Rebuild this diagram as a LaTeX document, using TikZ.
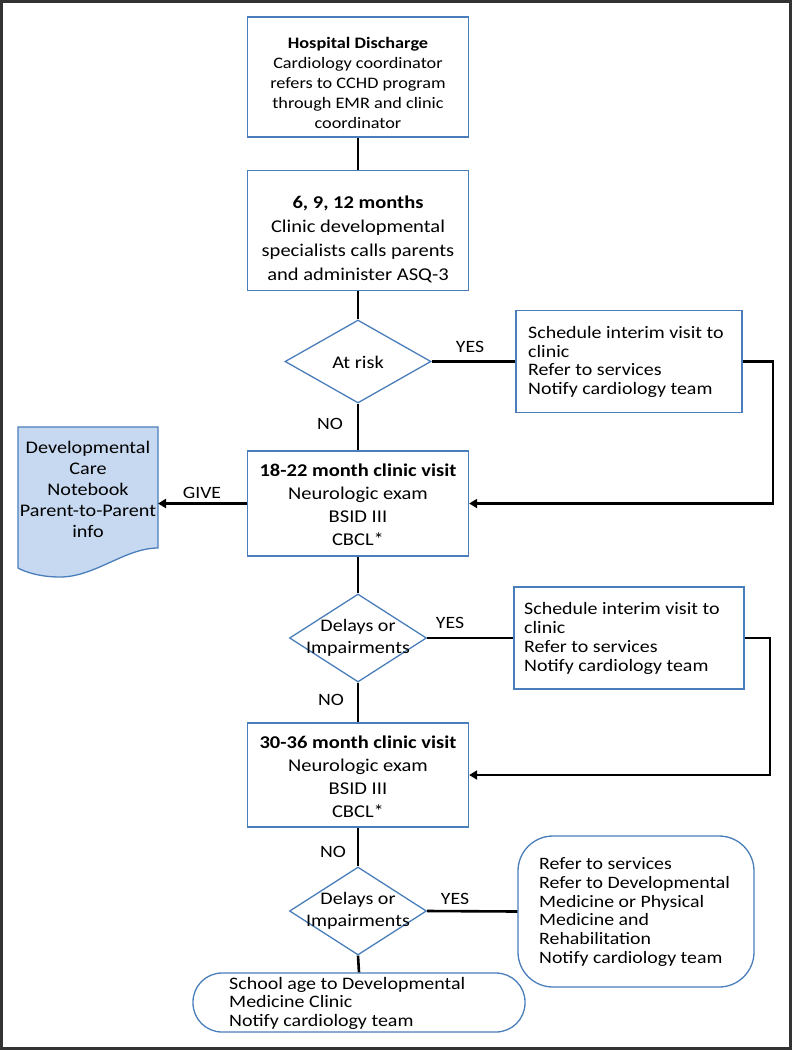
\documentclass[tikz,border=0pt]{standalone}
\usepackage{fontspec}
\setmainfont{Carlito}[FakeStretch=1.14]
\usetikzlibrary{arrows.meta,shapes.geometric}
\definecolor{boxblue}{HTML}{4A7EBB}
\definecolor{docfill}{HTML}{C6D9F1}
\begin{document}
\begin{tikzpicture}[x=1pt,y=-1pt,
  box/.style={draw=boxblue,line width=1.3pt,rectangle,inner sep=0pt},
  dia/.style={draw=boxblue,line width=1.3pt,diamond,inner sep=0pt},
  txt/.style={inner sep=0pt,align=center},
  ltxt/.style={inner sep=0pt,align=left,anchor=west},
  lab/.style={inner sep=0pt,font=\fontsize{17.3}{19}\selectfont},
  conn/.style={line width=2.6pt,black},
  arr/.style={line width=2.6pt,black,-{Triangle[length=8pt,width=9pt]}}]
\useasboundingbox (0,0) rectangle (792,1050);
\draw[line width=2.5pt,black!80] (1.5,1.5) rectangle (790.5,1048.5);
% main boxes
\node[box,minimum width=221,minimum height=120] (b1) at (358,77) {};
\node[txt,font=\fontsize{16}{20}\selectfont] (b1t) at (358,83) {\textbf{Hospital Discharge}\\Cardiology coordinator\\refers to CCHD program\\through EMR and clinic\\coordinator};
\node[box,minimum width=221,minimum height=120] (b2) at (358,230.5) {};
\node[txt,font=\fontsize{18}{24}\selectfont] (b2t) at (358,239) {\textbf{6, 9, 12 months}\\Clinic developmental\\specialists calls parents\\and administer ASQ-3};
\node[dia,minimum width=146,minimum height=83] (d1) at (358,361.5) {};
\node[txt,font=\fontsize{17.8}{20}\selectfont] (d1t) at (358,362) {At risk};
\node[box,minimum width=226,minimum height=102] (r1) at (629,361.5) {};
\node[ltxt,font=\fontsize{17.5}{18.8}\selectfont] (r1t) at (528,362) {Schedule interim visit to\\clinic\\Refer to services\\Notify cardiology team};
\node[box,minimum width=221,minimum height=105] (b3) at (358,503.5) {};
\node[txt,font=\fontsize{18}{23}\selectfont] (b3t) at (358,504.5) {\textbf{18-22 month clinic visit}\\Neurologic exam\\BSID III\\CBCL*};
% document shape
\fill[docfill] (18,427) -- (158,427) -- (158,548) .. controls (125,548) and (95,577) .. (60,577) .. controls (40,577) and (25,572) .. (18,568) -- cycle;
\draw[boxblue,line width=1.3pt] (18,427) -- (158,427) -- (158,548) .. controls (125,548) and (95,577) .. (60,577) .. controls (40,577) and (25,572) .. (18,568) -- cycle;
\coordinate (docr) at (158,503.5);
\node[txt,font=\fontsize{17.7}{21}\selectfont] (doct) at (88,489) {Developmental\\Care\\Notebook\\Parent-to-Parent\\info};
\node[dia,minimum width=137,minimum height=88] (d2) at (358,638) {};
\node[txt,font=\fontsize{17.6}{22.5}\selectfont] (d2t) at (358,638) {Delays or\\Impairments};
\node[box,minimum width=230,minimum height=102] (r2) at (629,638) {};
\node[ltxt,font=\fontsize{17.5}{18.8}\selectfont] (r2t) at (524,638.5) {Schedule interim visit to\\clinic\\Refer to services\\Notify cardiology team};
\node[box,minimum width=221,minimum height=104] (b4) at (358,775) {};
\node[txt,font=\fontsize{18}{23}\selectfont] (b4t) at (358,777) {\textbf{30-36 month clinic visit}\\Neurologic exam\\BSID III\\CBCL*};
\node[dia,minimum width=137,minimum height=88] (d3) at (358,911) {};
\node[txt,font=\fontsize{17.6}{22.5}\selectfont] (d3t) at (358,911) {Delays or\\Impairments};
\node[box,rounded corners=35pt,minimum width=236,minimum height=151] (r3) at (636,911.5) {};
\node[ltxt,font=\fontsize{17.4}{18.8}\selectfont] (r3t) at (539,912) {Refer to services\\Refer to Developmental\\Medicine or Physical\\Medicine and\\Rehabilitation\\Notify cardiology team};
\node[box,rounded corners=29pt,minimum width=332,minimum height=59] (b5) at (359,1002.5) {};
\node[ltxt,font=\fontsize{17.5}{18.5}\selectfont] (b5t) at (229,1003) {School age to Developmental\\Medicine Clinic\\Notify cardiology team};
% connectors
\draw[conn] (b1.south) -- (b2.north);
\draw[conn] (b2.south) -- (d1.north);
\draw[conn] (d1.east) -- (r1.west);
\coordinate (c1) at (773,503.5);
\draw[arr] (r1.east) -| (c1) -- (b3.east);
\draw[conn] (d1.south) -- (b3.north);
\draw[arr] (b3.west) -- (docr);
\draw[conn] (b3.south) -- (d2.north);
\draw[conn] (d2.east) -- (r2.west);
\coordinate (c2) at (770,775);
\draw[arr] (r2.east) -| (c2) -- (b4.east);
\draw[conn] (d2.south) -- (b4.north);
\draw[conn] (b4.south) -- (d3.north);
\draw[conn] (d3.east) -- (r3.west);
\draw[conn] (d3.south) -- (b5.north);
% labels
\node[lab] (yes1) at (470,347) {YES};
\node[lab] (no1) at (330,424) {NO};
\node[lab] (give) at (202,493) {GIVE};
\node[lab] (yes2) at (450,623) {YES};
\node[lab] (no2) at (331,700) {NO};
\node[lab] (no3) at (333,852) {NO};
\node[lab] (yes3) at (455,899) {YES};
\end{tikzpicture}
\end{document}
